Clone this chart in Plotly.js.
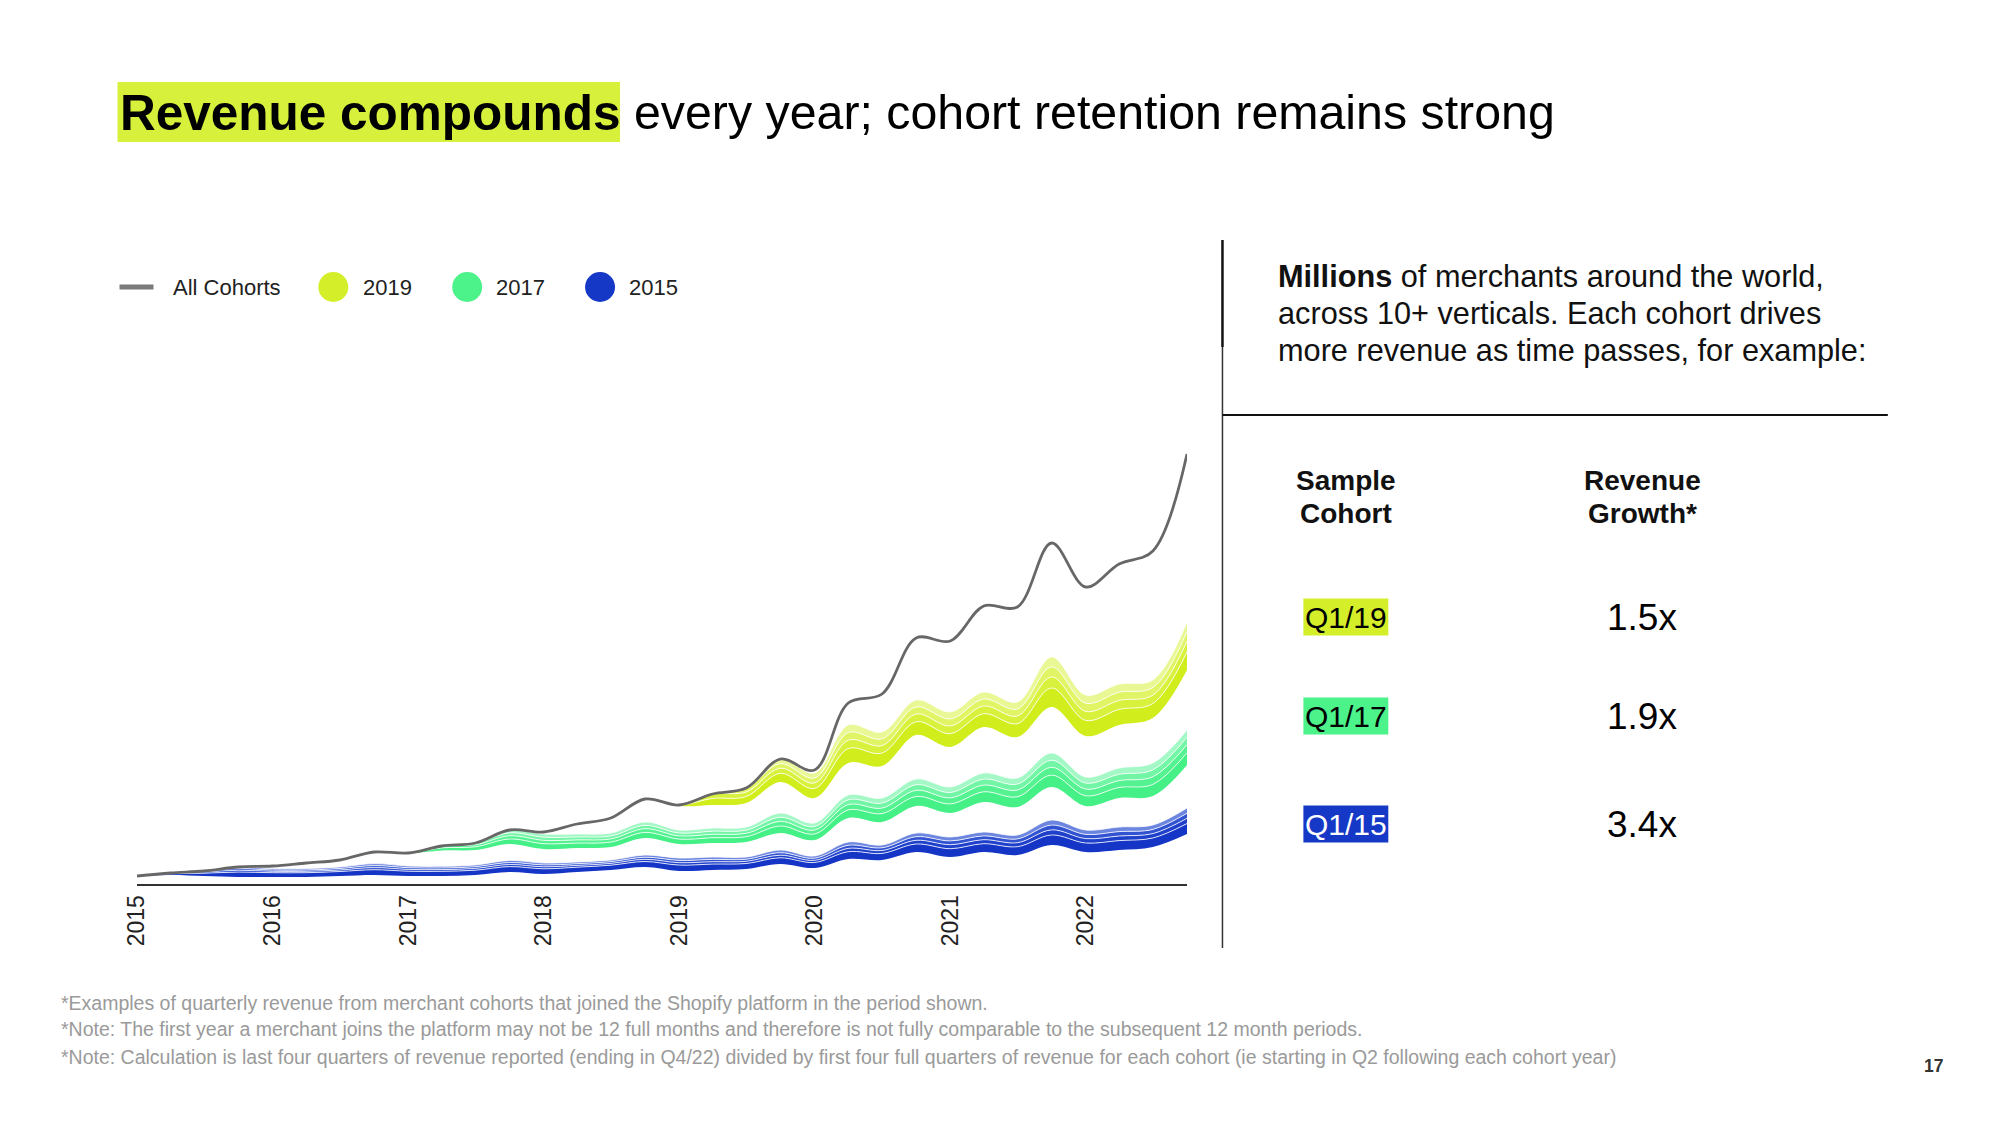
<!DOCTYPE html>
<html>
<head>
<meta charset="utf-8">
<script src="https://cdn.plot.ly/plotly-3.0.1.min.js"></script>
<style>
  html, body { margin: 0; padding: 0; background: #ffffff; }
  #chart { width: 2000px; height: 1125px; }
</style>
</head>
<body>
<div id="chart"></div>
<script>
// ---------------- DATA (index units) ----------------
const quarters = [
  "2015-01-01","2015-04-01","2015-07-01","2015-10-01",
  "2016-01-01","2016-04-01","2016-07-01","2016-10-01",
  "2017-01-01","2017-04-01","2017-07-01","2017-10-01",
  "2018-01-01","2018-04-01","2018-07-01","2018-10-01",
  "2019-01-01","2019-04-01","2019-07-01","2019-10-01",
  "2020-01-01","2020-04-01","2020-07-01","2020-10-01",
  "2021-01-01","2021-04-01","2021-07-01","2021-10-01",
  "2022-01-01","2022-04-01","2022-07-01","2022-10-01"
];
const tickYears = ["2015","2016","2017","2018","2019","2020","2021","2022"];

// total of all cohorts (grey line)
const allCohorts = [8,11,13,17,18,21,24,32,31,38,41,54,52,60,66,85,79,90,96,125,114,181,190,246,243,278,277,341,297,320,333,430];

// cohorts joined before 2015 (not coloured)
const cohortPre2015 = [7.7,9,8,7,7,7,8,9,8,8,9,12,10,12,14,17,13,14,15,20,16,25,24,32,27,32,29,39,32,34,37,50];

// 2015 cohort, by joining quarter
const c2015Q1 = [0.3,1.2,2.8,4.9,4.3,4.3,4.5,5.3,4.8,4.7,4.8,5.4,5.2,4.8,4.8,5.5,5.9,5.9,5.5,6.2,5.5,7.3,6.6,8.0,8.3,8.3,8.3,10.0,9.0,9.4,9.0,10.4];
const c2015Q2 = [0,0.8,1.2,1.9,1.4,1.4,1.5,2.1,1.8,1.7,1.8,2.1,2.0,1.8,1.8,2.2,2.4,2.4,2.2,2.6,2.2,3.3,2.9,3.7,4.0,4.0,4.0,5.1,4.4,4.6,4.4,5.3];
const c2015Q3 = [0,0,1.0,1.6,1.3,1.3,1.5,2.0,1.7,1.6,1.7,2.0,1.9,1.7,1.7,2.1,2.3,2.3,2.1,2.5,2.1,3.1,2.7,3.6,3.8,3.8,3.8,4.8,4.2,4.4,4.2,5.0];
const c2015Q4 = [0,0,0,1.6,1.4,1.4,1.5,2.0,1.7,1.7,1.7,2.1,1.9,1.7,1.7,2.2,2.4,2.4,2.2,2.7,2.2,3.3,2.8,3.7,3.9,3.9,3.9,5.1,4.4,4.6,4.4,5.3];

// 2016 cohort (not coloured)
const cohort2016 = [0,0,0,0,2.6,5.6,7,11.6,12.5,15.8,15,16.4,14,14,13,17,14,14,15,17,16,24,23,27,24,30,28,33,24,29,29,43];

// 2017 cohort, by joining quarter
const c2017Q1 = [0,0,0,0,0,0,0,0,0.5,2.6,3.2,5.0,5.3,4.9,4.9,5.6,4.9,5.3,5.3,7.0,6.0,8.1,8.4,9.5,9.1,10.2,10.2,11.9,10.2,10.5,11.6,12.3];
const c2017Q2 = [0,0,0,0,0,0,0,0,0,1.9,2.0,3.2,3.4,3.2,3.2,3.7,3.2,3.4,3.4,4.6,3.9,5.3,5.5,6.2,6.0,6.7,6.7,7.8,6.7,6.9,7.6,8.1];
const c2017Q3 = [0,0,0,0,0,0,0,0,0,0,1.8,2.9,3.1,2.9,2.9,3.3,2.9,3.1,3.1,4.2,3.5,4.8,5.0,5.6,5.4,6.0,6.0,7.1,6.0,6.3,6.9,7.3];
const c2017Q4 = [0,0,0,0,0,0,0,0,0,0,0,2.9,3.2,3.0,3.0,3.4,3.0,3.2,3.2,4.2,3.6,4.8,5.1,5.7,5.5,6.1,6.1,7.2,6.1,6.3,6.9,7.3];

// 2018 cohort (not coloured)
const cohort2018 = [0,0,0,0,0,0,0,0,0,0,0,0,2,10,15,23,24,23,24,31,25,32,32,44,40,46,41,46,41,43,45,60];

// 2019 cohort, by joining quarter
const c2019Q1 = [0,0,0,0,0,0,0,0,0,0,0,0,0,0,0,0,1,6.5,6.5,8.7,9.5,14.4,12.9,13.3,13.3,13.3,13.3,19.0,15.6,15.6,14.4,18.2];
const c2019Q2 = [0,0,0,0,0,0,0,0,0,0,0,0,0,0,0,0,0,4.5,4.5,5.1,5.5,8.4,7.5,7.7,7.7,7.7,7.7,11.0,9.0,9.0,8.4,10.6];
const c2019Q3 = [0,0,0,0,0,0,0,0,0,0,0,0,0,0,0,0,0,0,4.0,4.6,5.0,7.6,6.8,7.0,7.0,7.0,7.0,10.0,8.2,8.2,7.6,9.6];
const c2019Q4 = [0,0,0,0,0,0,0,0,0,0,0,0,0,0,0,0,0,0,0,4.6,5.0,7.6,6.8,7.0,7.0,7.0,7.0,10.0,8.2,8.2,7.6,9.6];

// legend and table texts
const legendLabels = ["All Cohorts","2019","2017","2015"];
const sampleCohorts = ["Q1/19","Q1/17","Q1/15"];
const revenueGrowth = ["1.5x","1.9x","3.4x"];
const footnotes = [
  "*Examples of quarterly revenue from merchant cohorts that joined the Shopify platform in the period shown.",
  "*Note: The first year a merchant joins the platform may not be 12 full months and therefore is not fully comparable to the subsequent 12 month periods.",
  "*Note: Calculation is last four quarters of revenue reported (ending in Q4/22) divided by first four full quarters of revenue for each cohort (ie starting in Q2 following each cohort year)"
];

// ---------------- STYLE / LAYOUT ----------------
const FONT = '"Liberation Sans", Arial, Helvetica, sans-serif';
const W = 2000, H = 1125;
const ML = 136.5, MR = 812.5, MT = 400, MB = 241;
const PW = W - ML - MR, PH = H - MT - MB, BASE = H - MB;
const PX = x => (x - ML) / PW;
const PY = y => (BASE - y) / PH;

const LIME = '#d4ef2a', GREEN = '#4cf28a', BLUE = '#1638c6';
const shadesBlue   = ['#1535c6', '#1e40cb', '#3152d1', '#6c85de'];
const shadesGreen  = ['#45f087', '#55f291', '#73f5a6', '#a3f8c5'];
const shadesYellow = ['#d1ed1c', '#d8f13c', '#e0f466', '#e9f795'];

const traces = [];
function layer(y, color) {
  traces.push({
    x: quarters, y: y, type: 'scatter', stackgroup: 'cohorts',
    mode: color ? 'lines' : 'none',
    line: { shape: 'spline', smoothing: 1, width: color ? 0.8 : 0, color: '#ffffff' },
    fillcolor: color || 'rgba(0,0,0,0)',
    hoverinfo: 'skip'
  });
}
layer(cohortPre2015, null);
[c2015Q1, c2015Q2, c2015Q3, c2015Q4].forEach((s, i) => layer(s, shadesBlue[i]));
layer(cohort2016, null);
[c2017Q1, c2017Q2, c2017Q3, c2017Q4].forEach((s, i) => layer(s, shadesGreen[i]));
layer(cohort2018, null);
[c2019Q1, c2019Q2, c2019Q3, c2019Q4].forEach((s, i) => layer(s, shadesYellow[i]));
traces.push({
  x: quarters, y: allCohorts, type: 'scatter', mode: 'lines',
  line: { shape: 'spline', smoothing: 1, width: 2.8, color: '#676767' },
  hoverinfo: 'skip'
});

const shapes = [];
const annotations = [];
function txt(text, x, y, size, opts) {
  opts = opts || {};
  annotations.push(Object.assign({
    text: text, x: PX(x), y: PY(y), xref: 'paper', yref: 'paper',
    xanchor: 'left', yanchor: 'middle', showarrow: false,
    font: { family: FONT, size: size, color: '#111' }
  }, opts));
}
function rect(x0, y0, x1, y1, color) {
  shapes.push({ type: 'rect', xref: 'paper', yref: 'paper',
    x0: PX(x0), x1: PX(x1), y0: PY(y0), y1: PY(y1),
    fillcolor: color, line: { width: 0 }, layer: 'below' });
}
function seg(x0, y0, x1, y1, color, width) {
  shapes.push({ type: 'line', xref: 'paper', yref: 'paper',
    x0: PX(x0), x1: PX(x1), y0: PY(y0), y1: PY(y1),
    line: { color: color, width: width } });
}
function dot(cx, cy, r, color) {
  shapes.push({ type: 'circle', xref: 'paper', yref: 'paper',
    x0: PX(cx - r), x1: PX(cx + r), y0: PY(cy + r), y1: PY(cy - r),
    fillcolor: color, line: { width: 0 } });
}

// title
rect(117, 82, 620, 142, '#d6f03c');
txt('<b>Revenue compounds</b>', 117, 112, 49.5, { font: { family: FONT, size: 49.5, color: '#000' } });
txt('every year; cohort retention remains strong', 632, 112, 48.3, { font: { family: FONT, size: 48.3, color: '#000' } });

// legend
seg(119, 287, 153, 287, '#7a7a7a', 5);
txt(legendLabels[0], 171, 287, 22, { font: { family: FONT, size: 22, color: '#222' } });
dot(333, 287, 15, LIME);
txt(legendLabels[1], 361, 287, 22, { font: { family: FONT, size: 22, color: '#222' } });
dot(467, 287, 15, GREEN);
txt(legendLabels[2], 494, 287, 22, { font: { family: FONT, size: 22, color: '#222' } });
dot(600, 287, 15, BLUE);
txt(legendLabels[3], 627, 287, 22, { font: { family: FONT, size: 22, color: '#222' } });

// right panel lines
seg(1223, 240, 1223, 347, '#111', 2.5);
seg(1223, 347, 1223, 948, '#333', 1.5);
seg(1223, 415, 1889, 415, '#111', 2);

// right panel paragraph
txt('<b>Millions</b> of merchants around the world,', 1277, 276, 30.7);
txt('across 10+ verticals. Each cohort drives', 1277, 313, 30.7);
txt('more revenue as time passes, for example:', 1277, 350, 30.7);

// table header
txt('<b>Sample</b>', 1347, 480, 28, { xanchor: 'center' });
txt('<b>Cohort</b>', 1347, 513, 28, { xanchor: 'center' });
txt('<b>Revenue</b>', 1643, 480, 28, { xanchor: 'center' });
txt('<b>Growth*</b>', 1643, 513, 28, { xanchor: 'center' });

// table rows
const rowY = [617, 716, 824];
const rowBg = [LIME, GREEN, BLUE];
const rowFg = ['#000', '#000', '#fff'];
sampleCohorts.forEach((s, i) => {
  rect(1304, rowY[i] - 18.5, 1389, rowY[i] + 18.5, rowBg[i]);
  txt(s, 1347, rowY[i], 30, { xanchor: 'center', font: { family: FONT, size: 30, color: rowFg[i] } });
  txt(revenueGrowth[i], 1643, rowY[i], 37, { xanchor: 'center', font: { family: FONT, size: 37, color: '#000' } });
});

// footnotes
const fnY = [1003, 1029, 1057];
footnotes.forEach((f, i) => txt(f, 58, fnY[i], 19.5, { font: { family: FONT, size: 19.5, color: '#9a9a9a' } }));

// page number
txt('<b>17</b>', 1935, 1066, 17.5, { xanchor: 'center', font: { family: FONT, size: 17.5, color: '#333' } });

const layout = {
  width: W, height: H,
  margin: { l: ML, r: MR, t: MT, b: MB, pad: 0 },
  paper_bgcolor: '#ffffff', plot_bgcolor: 'rgba(0,0,0,0)',
  showlegend: false,
  xaxis: {
    type: 'date', range: [quarters[0], quarters[quarters.length - 1]],
    tickmode: 'array', tickvals: tickYears.map(y => y + '-01-01'), ticktext: tickYears,
    tickangle: -90, ticks: '', showgrid: false, zeroline: false,
    showline: true, linecolor: '#333', linewidth: 2,
    tickfont: { family: FONT, size: 23, color: '#222' }, fixedrange: true
  },
  yaxis: { range: [0, PH], visible: false, showgrid: false, zeroline: false, fixedrange: true },
  shapes: shapes, annotations: annotations
};

Plotly.newPlot('chart', traces, layout, { staticPlot: true, displayModeBar: false });
</script>
</body>
</html>
